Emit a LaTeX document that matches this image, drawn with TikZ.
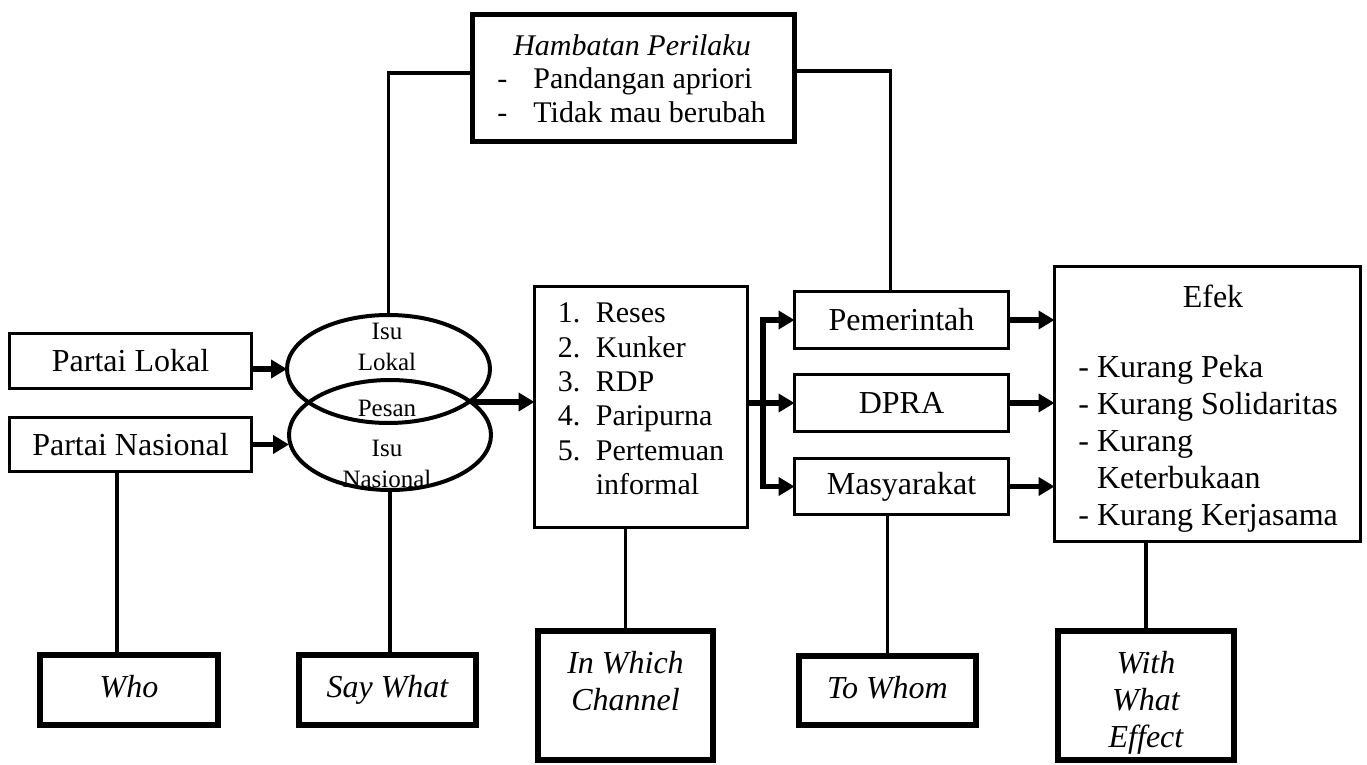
\documentclass[tikz,border=0pt]{standalone}
\usepackage{fontspec}
\setmainfont{Liberation Serif}
\usetikzlibrary{arrows.meta,shapes.geometric,positioning}

\begin{document}
\begin{tikzpicture}[
        %Environment config
        x=0.5pt, y=-0.5pt,
        %Environment styles
        BoxCfg/.style={
            draw, line width=1.6pt,
            inner sep=0pt, outer sep=0pt,
            font=\fontsize{16}{18.5}\selectfont
        },
        TopCfg/.style={draw, line width=2.5pt, inner sep=0pt, outer sep=0pt},
        AskCfg/.style={draw, line width=3pt, inner sep=0pt, outer sep=0pt},
        AskText/.style={
            anchor=north, align=center, inner sep=0pt,
            font=\itshape\fontsize{16}{18.5}\selectfont
        },
        IsuCfg/.style={draw, ellipse, line width=2pt, inner sep=0pt, outer sep=0pt},
        IsuText/.style={align=center, inner sep=0pt, font=\fontsize{12.5}{15.5}\selectfont},
        ListText/.style={align=left, inner sep=0pt},
        Arr/.style={line width=2.6pt, -{Triangle[length=8pt,width=9pt]}},
        ArrBoth/.style={line width=2.6pt, {Triangle[length=8pt,width=9pt]}-{Triangle[length=8pt,width=9pt]}},
        Wire/.style={line width=1.8pt}
    ]
    \useasboundingbox (0,0) rectangle (1367,765);

    % who / say what
    \path
        (130.5,361) node[BoxCfg, minimum width=121pt, minimum height=27.5pt](lokal){Partai Lokal}
        (130.5,444.5) node[BoxCfg, minimum width=121pt, minimum height=27pt](nasional){Partai Nasional}
        (388.5,369) node[IsuCfg, minimum width=101.5pt, minimum height=54pt](isulokal){}
        (390,435) node[IsuCfg, minimum width=101pt, minimum height=55pt](isunas){}
        (387,347) node[IsuText](isulokalteks){Isu\\Lokal}
        (387,408) node[IsuText](pesanteks){Pesan}
        (387,463.5) node[IsuText](isunasteks){Isu\\Nasional};

    % channel, receivers, effect
    \path
        (641,407) node[BoxCfg, minimum width=106.5pt, minimum height=120.5pt](saluran){}
        (641,399) node[ListText, font=\fontsize{15}{17.2}\selectfont](saluranteks){%
            \makebox[19pt][l]{1.}Reses\\
            \makebox[19pt][l]{2.}Kunker\\
            \makebox[19pt][l]{3.}RDP\\
            \makebox[19pt][l]{4.}Paripurna\\
            \makebox[19pt][l]{5.}Pertemuan\\
            \hspace*{19pt}informal}
        (901.5,320) node[BoxCfg, minimum width=107pt, minimum height=28.5pt](pemerintah){Pemerintah}
        (901.5,403) node[BoxCfg, minimum width=107pt, minimum height=28.5pt](dpra){DPRA}
        (901.5,486.5) node[BoxCfg, minimum width=107pt, minimum height=28pt](masyarakat){Masyarakat}
        (1207.5,404) node[BoxCfg, minimum width=153pt, minimum height=137.5pt](efek){}
        (1213,296) node[inner sep=0pt, font=\fontsize{16}{18.5}\selectfont](efekjudul){Efek}
        (1078,355) node[ListText, anchor=north west, font=\fontsize{16}{18.5}\selectfont](efekteks){%
            - Kurang Peka\\
            - Kurang Solidaritas\\
            - Kurang\\
            \phantom{- }Keterbukaan\\
            - Kurang Kerjasama};

    % hambatan
    \path
        (633.5,78) node[TopCfg, minimum width=161pt, minimum height=63.5pt](hambatan){}
        (632,45) node[inner sep=0pt, font=\itshape\fontsize{15}{17}\selectfont](hambatanjudul){Hambatan Perilaku}
        (497,67.5) node[ListText, anchor=north west, font=\fontsize{15}{17}\selectfont](hambatanteks){%
            \makebox[18pt][l]{-}Pandangan apriori\\
            \makebox[18pt][l]{-}Tidak mau berubah};

    % lasswell questions
    \path
        (129,690) node[AskCfg, minimum width=89pt, minimum height=35pt](who){}
        (387.5,690) node[AskCfg, minimum width=88.5pt, minimum height=35pt](saywhat){}
        (625.5,695.5) node[AskCfg, minimum width=87.5pt, minimum height=64.5pt](inwhich){}
        (887.5,690.5) node[AskCfg, minimum width=88.5pt, minimum height=34.5pt](towhom){}
        (1146,695.5) node[AskCfg, minimum width=88pt, minimum height=64.5pt](witheffect){};
    \node[AskText] (whoteks) at ([yshift=-10pt]who.north) {Who};
    \node[AskText] (saywhatteks) at ([yshift=-10pt]saywhat.north) {Say What};
    \node[AskText] (inwhichteks) at ([yshift=-10pt]inwhich.north) {In Which\\Channel};
    \node[AskText] (towhomteks) at ([yshift=-10pt]towhom.north) {To Whom};
    \node[AskText] (witheffectteks) at ([yshift=-10pt]witheffect.north) {With\\What\\Effect};

    \coordinate (pesan) at (472,402);
    \coordinate (cabang) at (763,403);

    \draw[Arr] (isulokal.west -| lokal.east) -- (isulokal.west);
    \draw[Arr] (nasional.east) -- (nasional.east -| isunas.west);
    \draw[Arr] (pesan) -- (pesan -| saluran.west);
    \draw[Arr] (saluran.east |- dpra.west) -- (dpra.west);
    \draw[ArrBoth] (pemerintah.west) -- (pemerintah.west -| cabang) |- (masyarakat.west);
    \draw[Arr] (pemerintah.east) -- (pemerintah.east -| efek.west);
    \draw[Arr] (dpra.east) -- (dpra.east -| efek.west);
    \draw[Arr] (masyarakat.east) -- (masyarakat.east -| efek.west);

    \draw[Wire]
        ([yshift=2.5pt]hambatan.west) -| (isulokal.north)
        ([yshift=3.5pt]hambatan.east) -| ([xshift=-5.5pt]pemerintah.north)
        ([xshift=-6pt]who.north) -- ([xshift=-6pt]who.north |- nasional.south)
        (isunas.south) -- (isunas.south |- saywhat.north)
        (inwhich.north) -- (inwhich.north |- saluran.south)
        (towhom.north) -- (towhom.north |- masyarakat.south)
        (witheffect.north) -- (witheffect.north |- efek.south);
\end{tikzpicture}
\end{document}
